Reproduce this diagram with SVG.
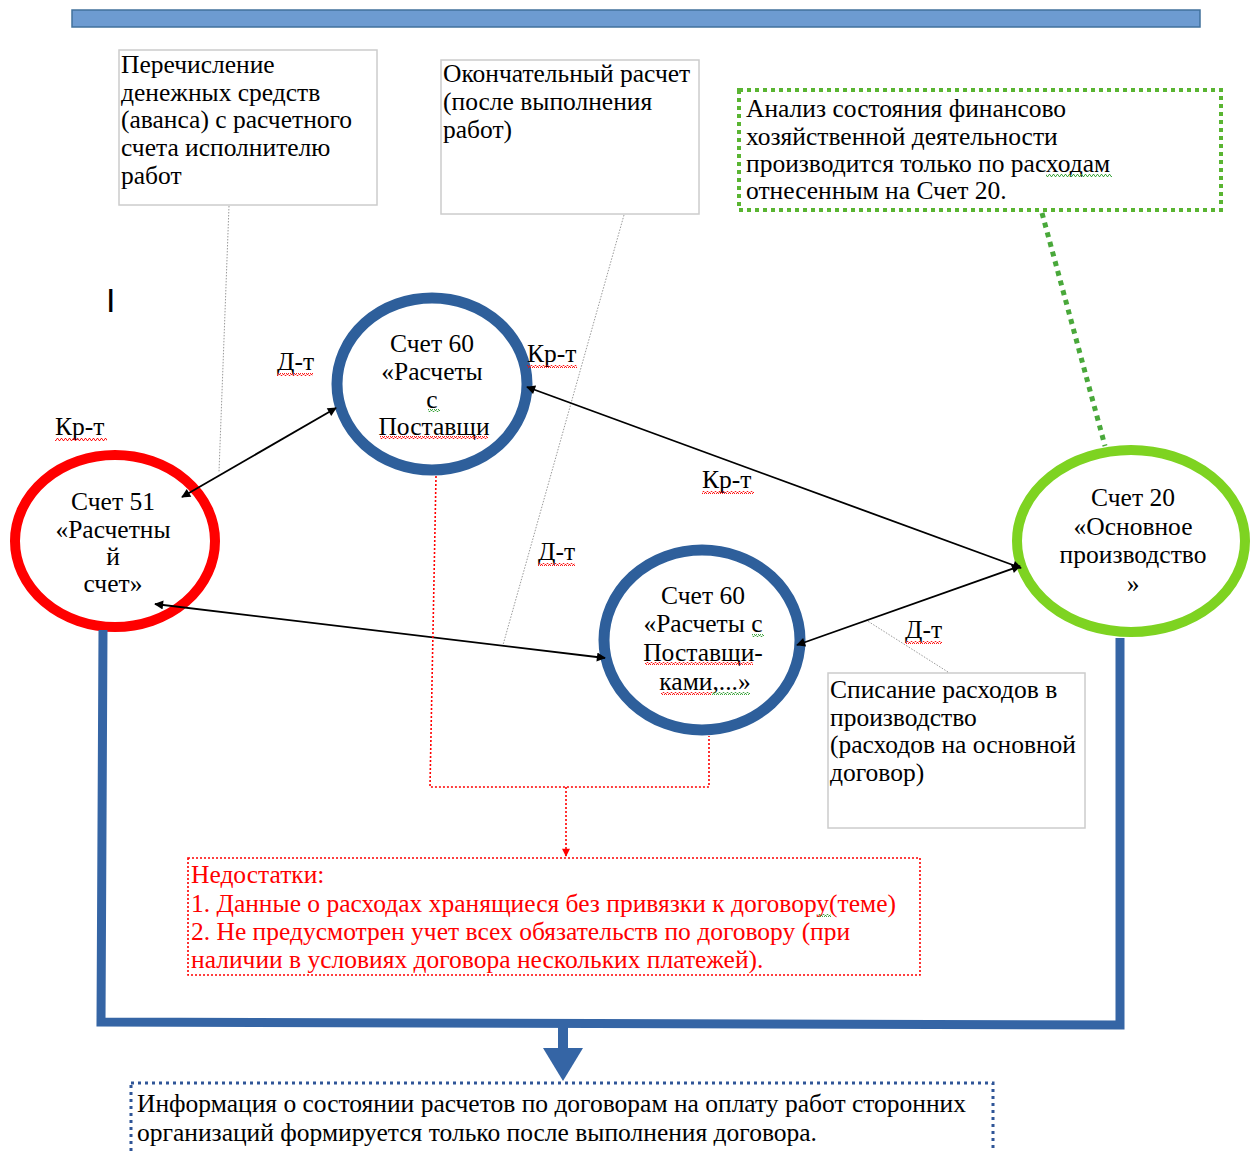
<svg xmlns="http://www.w3.org/2000/svg" width="1253" height="1152" viewBox="0 0 1253 1152">
<style>
  .t { font-family: "Liberation Serif", "Times New Roman", serif; font-size: 25.5px; fill: #000; }
  .c { text-anchor: middle; }
  .red { fill: #ff0000; }
  .box { fill: #fff; stroke: #cccccc; stroke-width: 1.5; }
  .callout { fill: none; stroke: #9a9a9a; stroke-width: 1; stroke-dasharray: 1.5 1.5; }
  .conn { fill: none; stroke: #000; stroke-width: 1.8; marker-start: url(#arr); marker-end: url(#arr); }
  .ring { fill: #fff; }
  .wr { fill: url(#wavyRed); }
  .wg { fill: url(#wavyGreen); }
</style>
<defs>
  <marker id="arr" viewBox="0 0 10 10" refX="9" refY="5" markerWidth="11" markerHeight="9" markerUnits="userSpaceOnUse" orient="auto-start-reverse">
    <path d="M0 0 L10 5 L0 10 z" fill="#000"/>
  </marker>
  <marker id="arrRed" viewBox="0 0 10 10" refX="9" refY="5" markerWidth="9" markerHeight="8" markerUnits="userSpaceOnUse" orient="auto">
    <path d="M0 0 L10 5 L0 10 z" fill="#ff0000"/>
  </marker>
  <pattern id="wavyRed" x="0" y="0" width="4" height="3" patternUnits="userSpaceOnUse">
    <path d="M0 2.5 L1 0.5 L2 0.5 L3 2.5 L4 2.5" fill="none" stroke="#ff0000" stroke-width="0.9"/>
  </pattern>
  <pattern id="wavyGreen" x="0" y="0" width="4" height="3" patternUnits="userSpaceOnUse">
    <path d="M0 2.5 L1 0.5 L2 0.5 L3 2.5 L4 2.5" fill="none" stroke="#2e9e2e" stroke-width="0.9"/>
  </pattern>
</defs>
<rect width="1253" height="1152" fill="#fff"/>

<!-- top bar -->
<rect id="topbar" x="72" y="10" width="1128" height="17" fill="#6d9bd1" stroke="#41719c" stroke-width="1.5"/>

<!-- cursor mark -->
<text x="106" y="312" style="font-family:'Liberation Sans',Arial,sans-serif;font-size:34px;fill:#000">I</text>

<!-- box 1 -->
<g id="box-perechislenie">
  <rect class="box" x="119" y="50" width="258" height="155"/>
  <text class="t" x="121" y="73">Перечисление</text>
  <text class="t" x="121" y="101">денежных  средств</text>
  <text class="t" x="121" y="128">(аванса) с расчетного</text>
  <text class="t" x="121" y="156">счета исполнителю</text>
  <text class="t" x="121" y="184">работ</text>
</g>

<!-- box 2 -->
<g id="box-okonchatelny">
  <rect class="box" x="441" y="60" width="258" height="154"/>
  <text class="t" x="443" y="82">Окончательный расчет</text>
  <text class="t" x="443" y="110">(после выполнения</text>
  <text class="t" x="443" y="138">работ)</text>
</g>

<!-- green dotted box -->
<g id="box-analiz">
  <rect x="739" y="90" width="482" height="120" fill="#fff" stroke="#5ab532" stroke-width="4" stroke-dasharray="4 4"/>
  <text class="t" x="746" y="117">Анализ состояния финансово</text>
  <text class="t" x="746" y="145">хозяйственной деятельности</text>
  <text class="t" x="746" y="172">производится только по расходам</text>
  <text class="t" x="746" y="199">отнесенным  на Счет 20.</text>
  <rect class="wg" x="1046" y="174" width="66" height="3"/>
</g>

<!-- Счет 51 -->
<g id="node-schet51">
  <ellipse class="ring" cx="115" cy="541" rx="100" ry="86" stroke="#ff0000" stroke-width="10"/>
  <text class="t c" x="113" y="510">Счет 51</text>
  <text class="t c" x="113" y="538">«Расчетны</text>
  <text class="t c" x="113" y="565">й</text>
  <text class="t c" x="113" y="592">счет»</text>
</g>

<!-- Счет 60 top -->
<g id="node-schet60a">
  <ellipse class="ring" cx="432" cy="384" rx="95" ry="86" stroke="#2e5f9b" stroke-width="11"/>
  <text class="t c" x="432" y="352">Счет 60</text>
  <text class="t c" x="432" y="380">«Расчеты</text>
  <text class="t c" x="432" y="408">с</text>
  <text class="t c" x="434" y="435">Поставщи</text>
  <rect class="wg" x="428" y="409" width="12" height="3"/>
  <rect class="wr" x="380" y="436" width="108" height="3"/>
</g>

<!-- Счет 60 bottom -->
<g id="node-schet60b">
  <ellipse class="ring" cx="702" cy="640" rx="98" ry="90" stroke="#2e5f9b" stroke-width="11"/>
  <text class="t c" x="703" y="604">Счет 60</text>
  <text class="t c" x="703" y="632">«Расчеты с</text>
  <text class="t c" x="703" y="661">Поставщи-</text>
  <text class="t c" x="705" y="690">ками,...»</text>
  <rect class="wg" x="752" y="634" width="12" height="3"/>
  <rect class="wr" x="645" y="662" width="108" height="3"/>
  <rect class="wr" x="661" y="692" width="51" height="3"/>
  <rect class="wg" x="712" y="692" width="38" height="3"/>
</g>

<!-- Счет 20 -->
<g id="node-schet20">
  <ellipse class="ring" cx="1131" cy="541" rx="114" ry="91" stroke="#7ed321" stroke-width="10"/>
  <text class="t c" x="1133" y="506">Счет 20</text>
  <text class="t c" x="1133" y="535">«Основное</text>
  <text class="t c" x="1133" y="563">производство</text>
  <text class="t c" x="1133" y="592">»</text>
</g>

<!-- edge labels -->
<g id="labels">
  <text class="t" x="55" y="435">Кр-т</text>
  <rect class="wr" x="55" y="438" width="52" height="3"/>
  <text class="t" x="277" y="370">Д-т</text>
  <rect class="wr" x="277" y="373" width="36" height="3"/>
  <text class="t" x="527" y="362">Кр-т</text>
  <rect class="wr" x="527" y="365" width="50" height="3"/>
  <text class="t" x="702" y="488">Кр-т</text>
  <rect class="wr" x="702" y="491" width="52" height="3"/>
  <text class="t" x="538" y="560">Д-т</text>
  <rect class="wr" x="538" y="563" width="37" height="3"/>
  <text class="t" x="905" y="638">Д-т</text>
  <rect class="wr" x="905" y="641" width="37" height="3"/>
</g>

<!-- box Списание -->
<g id="box-spisanie">
  <rect class="box" x="828" y="673" width="257" height="155"/>
  <text class="t" x="830" y="698">Списание  расходов в</text>
  <text class="t" x="830" y="726">производство</text>
  <text class="t" x="830" y="753">(расходов на основной</text>
  <text class="t" x="830" y="781">договор)</text>
</g>

<!-- Недостатки -->
<g id="box-nedostatki">
  <rect x="188" y="858" width="732" height="117" fill="#fff" stroke="#ff0000" stroke-width="1.6" stroke-dasharray="2 2"/>
  <text class="t red" x="191" y="883">Недостатки:</text>
  <text class="t red" x="191" y="912">1. Данные  о расходах хранящиеся  без привязки к договору(теме)</text>
  <text class="t red" x="191" y="940">2. Не предусмотрен  учет всех обязательств по договору (при</text>
  <text class="t red" x="191" y="968">наличии в условиях договора нескольких  платежей).</text>
  <rect class="wg" x="818" y="914" width="13" height="3"/>
</g>

<!-- Информация -->
<g id="box-informacia">
  <rect x="131" y="1083" width="862" height="75" fill="#fff" stroke="#2f5597" stroke-width="3" stroke-dasharray="3 4"/>
  <text class="t" x="137" y="1112">Информация о состоянии расчетов  по договорам на оплату работ сторонних</text>
  <text class="t" x="137" y="1141">организаций формируется только после выполнения  договора.</text>
</g>

<!-- connectors -->
<g id="connectors">
  <line class="callout" x1="229" y1="206" x2="219" y2="472"/>
  <line class="callout" x1="624" y1="215" x2="503" y2="645"/>
  <line class="callout" x1="948" y1="672" x2="866" y2="620"/>
  <line class="conn" x1="182" y1="497" x2="336" y2="408"/>
  <line class="conn" x1="527" y1="387" x2="1021" y2="568"/>
  <line class="conn" x1="155" y1="604" x2="605" y2="658"/>
  <line class="conn" x1="797" y1="645" x2="1020" y2="566"/>
  <line x1="1042" y1="213" x2="1105" y2="446" stroke="#49a83a" stroke-width="5" stroke-dasharray="5 5"/>
  <polyline points="436,476 430,787 709,787 709,736" fill="none" stroke="#ff0000" stroke-width="1.6" stroke-dasharray="2 2"/>
  <line x1="566" y1="787" x2="566" y2="856" stroke="#ff0000" stroke-width="1.6" stroke-dasharray="2 2" marker-end="url(#arrRed)"/>
  <polyline points="103,630 101,1022 1120,1025 1120,638" fill="none" stroke="#3565a5" stroke-width="9"/>
  <rect x="558" y="1024" width="10" height="28" fill="#3565a5"/>
  <polygon points="543,1048 583,1048 563,1081" fill="#3565a5"/>
</g>
</svg>
